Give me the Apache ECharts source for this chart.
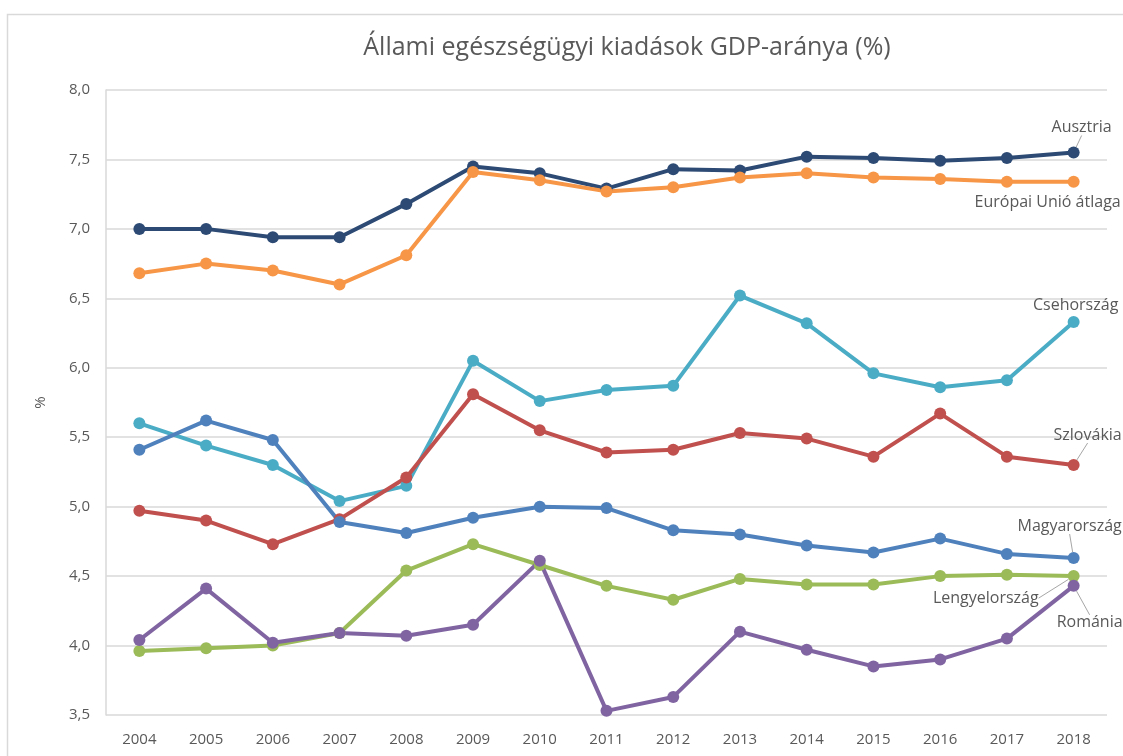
<!DOCTYPE html>
<html>
<head>
<meta charset="utf-8">
<script src="https://cdn.jsdelivr.net/npm/echarts@6/dist/echarts.min.js"></script>
<style>
html,body{margin:0;padding:0;background:#fff;}
#chart{width:1123px;height:756px;}
</style>
</head>
<body>
<div id="chart"></div>
<script>
const years = ['2004','2005','2006','2007','2008','2009','2010','2011','2012','2013','2014','2015','2016','2017','2018'];
const yTicks = [3.5, 4.0, 4.5, 5.0, 5.5, 6.0, 6.5, 7.0, 7.5, 8.0];

const ausztria      = [7.00, 7.00, 6.94, 6.94, 7.18, 7.45, 7.40, 7.29, 7.43, 7.42, 7.52, 7.51, 7.49, 7.51, 7.55];
const euAtlag       = [6.68, 6.75, 6.70, 6.60, 6.81, 7.41, 7.35, 7.27, 7.30, 7.37, 7.40, 7.37, 7.36, 7.34, 7.34];
const csehorszag    = [5.60, 5.44, 5.30, 5.04, 5.15, 6.05, 5.76, 5.84, 5.87, 6.52, 6.32, 5.96, 5.86, 5.91, 6.33];
const szlovakia     = [4.97, 4.90, 4.73, 4.91, 5.21, 5.81, 5.55, 5.39, 5.41, 5.53, 5.49, 5.36, 5.67, 5.36, 5.30];
const magyarorszag  = [5.41, 5.62, 5.48, 4.89, 4.81, 4.92, 5.00, 4.99, 4.83, 4.80, 4.72, 4.67, 4.77, 4.66, 4.63];
const lengyelorszag = [3.96, 3.98, 4.00, 4.09, 4.54, 4.73, 4.58, 4.43, 4.33, 4.48, 4.44, 4.44, 4.50, 4.51, 4.50];
const romania       = [4.04, 4.41, 4.02, 4.09, 4.07, 4.15, 4.61, 3.53, 3.63, 4.10, 3.97, 3.85, 3.90, 4.05, 4.43];

const seriesDefs = [
  {name:'Ausztria', data:ausztria, color:'#2C4A74', pos:'top', dx:8, dy:-6, line:true},
  {name:'Európai Unió átlaga', data:euAtlag, color:'#F79646', pos:'bottom', dx:-26, dy:2, line:false},
  {name:'Csehország', data:csehorszag, color:'#4BACC6', pos:'top', dx:2, dy:2, line:false},
  {name:'Szlovákia', data:szlovakia, color:'#C0504D', pos:'top', dx:14, dy:-11, line:true},
  {name:'Magyarország', data:magyarorszag, color:'#4F81BD', pos:'top', dx:-4, dy:-13, line:true},
  {name:'Lengyelország', data:lengyelorszag, color:'#9BBB59', pos:'left', dx:-24, dy:22, line:true},
  {name:'Románia', data:romania, color:'#8064A2', pos:'bottom', dx:16, dy:18, line:true}
];

const FONT = 'Open Sans';
const last = years.length - 1;

const series = seriesDefs.map(function(s){
  return {
    name: s.name,
    type: 'line',
    data: s.data.map(function(v, i){
      if (i === last) {
        return {value: v, label: {show: true, position: s.pos, formatter: s.name,
          color:'#595959', fontFamily: FONT, fontSize: 16}};
      }
      return v;
    }),
    symbol: 'circle',
    symbolSize: 12,
    lineStyle: {width: 4, color: s.color},
    itemStyle: {color: s.color},
    label: {show: false},
    labelLine: {show: s.line, lineStyle: {color: '#a6a6a6', width: 1}},
    labelLayout: function(p){
      if (p.dataIndex === last) return {dx: s.dx, dy: s.dy};
      return {};
    },
    emphasis: {disabled: true},
    animation: false,
    z: 2
  };
});

const chart = echarts.init(document.getElementById('chart'), null, {renderer: 'canvas'});
chart.setOption({
  backgroundColor: '#ffffff',
  animation: false,
  title: {
    text: 'Állami egészségügyi kiadások GDP-aránya (%)',
    left: 622, top: 30, textAlign: 'center',
    textStyle: {fontFamily: FONT, fontSize: 25, fontWeight: 'normal', color: '#595959'}
  },
  graphic: [{
    type: 'rect', left: 5, top: 12, silent: true,
    shape: {width: 1140, height: 770},
    style: {fill: 'none', stroke: '#d9d9d9', lineWidth: 1.5},
    z: -1
  }],
  grid: {left: 106, right: 16, top: 90, bottom: 41, containLabel: false},
  xAxis: {
    type: 'category',
    data: years,
    boundaryGap: true,
    axisLine: {show: false},
    axisTick: {show: false},
    axisLabel: {color: '#595959', fontFamily: FONT, fontSize: 15, margin: 17}
  },
  yAxis: {
    type: 'value',
    min: yTicks[0], max: yTicks[yTicks.length-1], interval: 0.5,
    name: '%', nameLocation: 'middle', nameGap: 58, nameRotate: 90,
    nameTextStyle: {color: '#595959', fontFamily: FONT, fontSize: 15},
    axisLine: {show: true, lineStyle: {color: '#d9d9d9', width: 1.5}},
    axisTick: {show: false},
    splitLine: {lineStyle: {color: '#d9d9d9', width: 1.5}},
    axisLabel: {color: '#595959', fontFamily: FONT, fontSize: 15, margin: 16,
      formatter: function(v){ return v.toFixed(1).replace('.', ','); }}
  },
  tooltip: {show: false},
  legend: {show: false},
  series: series
});
</script>
</body>
</html>
